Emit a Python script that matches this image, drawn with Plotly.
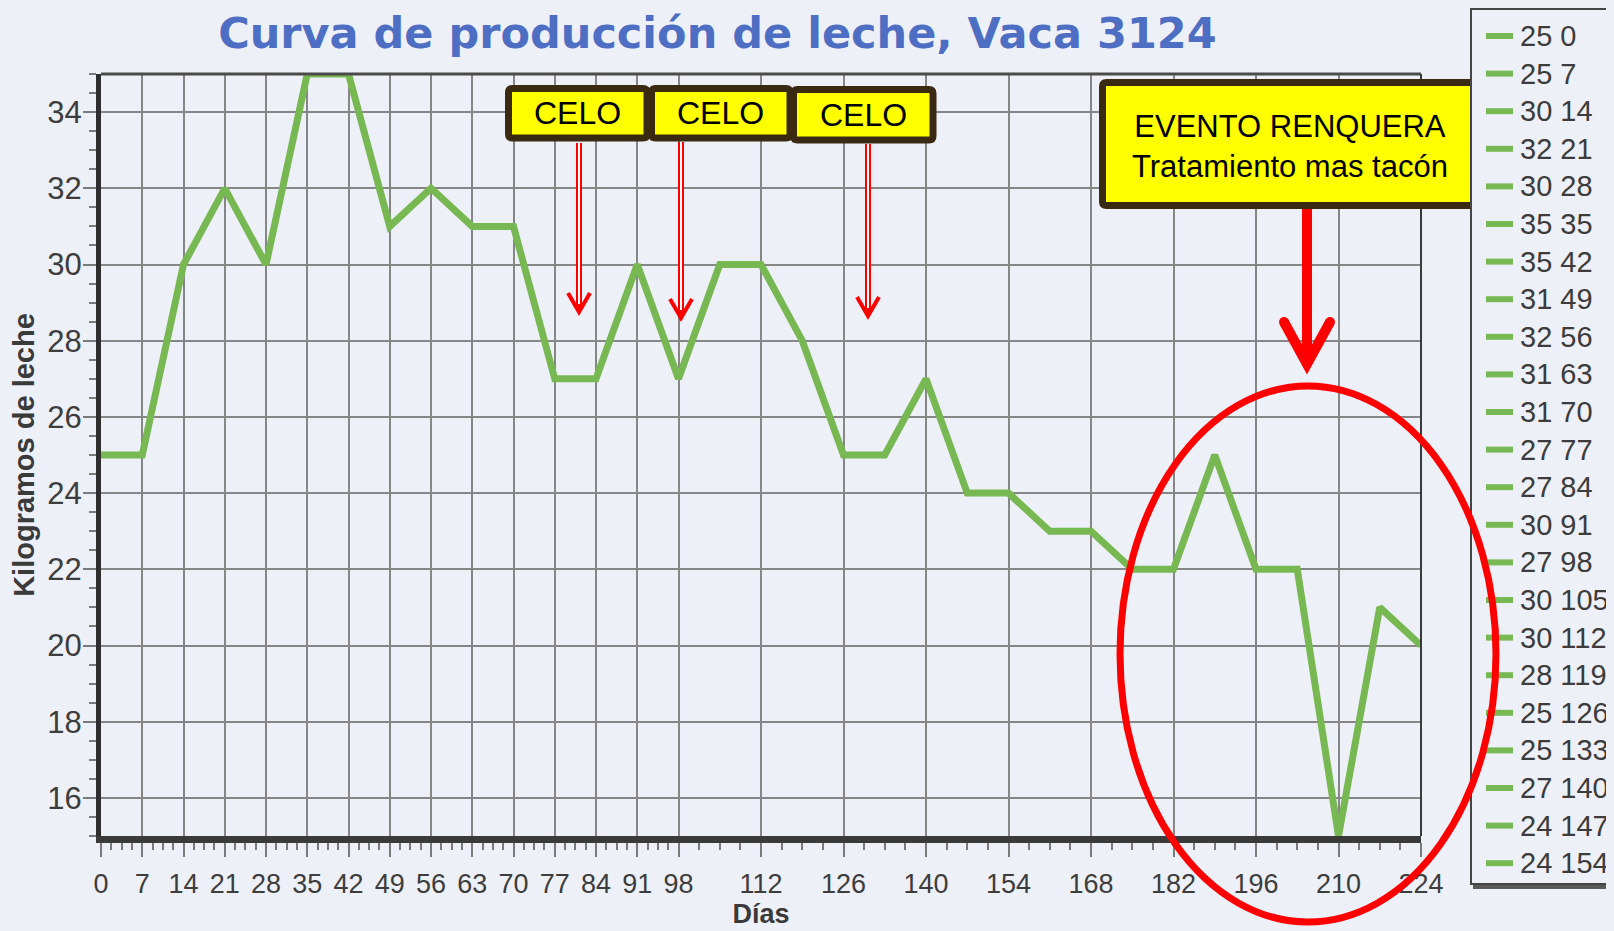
import plotly.graph_objects as go

# ---------------- data ----------------
dias = [0, 7, 14, 21, 28, 35, 42, 49, 56, 63, 70, 77, 84, 91, 98, 105, 112,
        119, 126, 133, 140, 147, 154, 161, 168, 175, 182, 189, 196, 203, 210, 217, 224]
kg = [25, 25, 30, 32, 30, 35, 35, 31, 32, 31, 31, 27, 27, 30, 27, 30, 30,
      28, 25, 25, 27, 24, 24, 23, 23, 22, 22, 25, 22, 22, 15, 21, 20]

x_ticks = [0, 7, 14, 21, 28, 35, 42, 49, 56, 63, 70, 77, 84, 91, 98,
           112, 126, 140, 154, 168, 182, 196, 210, 224]
y_ticks = [16, 18, 20, 22, 24, 26, 28, 30, 32, 34]

legend_count = 23  # entries visible in the original legend box
legend_labels = [f"{kg[i]} {dias[i]}" for i in range(legend_count)]

celo_labels = ["CELO", "CELO", "CELO"]
evento_label = "EVENTO RENQUERA<br>Tratamiento mas tacón"

title = "Curva de producción de leche, Vaca 3124"

# ---------------- layout helpers ----------------
OFF = 8                                   # page body margin
W, H = 1614 - OFF, 931 - OFF
L, R, T, B = 101, 1421, 74, 836          # plot area in screen pixels


def px(x):
    return (x - L) / (R - L)


def py(y):
    return (B - y) / (B - T)


BG = "#eef0f8"
GREEN = "#78b853"
GRID = "#868686"
BROWN = "#3b2a12"
YELLOW = "#ffff00"
RED = "#ff0000"

# minor tick positions (axis styling)
minor_x = []
v = 0.0
while v < 98:
    if v not in x_ticks:
        minor_x.append(v)
    v += 1.75
v = 98.0
while v <= 224:
    if v not in x_ticks:
        minor_x.append(v)
    v += 3.5

fig = go.Figure()
fig.add_trace(go.Scatter(
    x=dias, y=kg, mode="lines",
    line=dict(color=GREEN, width=7),
    showlegend=False, hoverinfo="x+y"))

shapes = []
annotations = []

# top & right frame
shapes.append(dict(type="line", xref="paper", yref="paper", x0=0, x1=1, y0=1, y1=1,
                   line=dict(color="#4a4a4a", width=3), layer="above"))
shapes.append(dict(type="line", xref="paper", yref="paper", x0=1, x1=1, y0=0, y1=1,
                   line=dict(color="#3a3a3a", width=2), layer="above"))


def rounded_rect(x0, y0, x1, y1, r=4):
    X0, X1 = px(x0), px(x1)
    Y0, Y1 = py(y0), py(y1)
    rx = r / (R - L)
    ry = r / (B - T)
    return (f"M {X0+rx},{Y0} L {X1-rx},{Y0} Q {X1},{Y0} {X1},{Y0-ry} "
            f"L {X1},{Y1+ry} Q {X1},{Y1} {X1-rx},{Y1} L {X0+rx},{Y1} "
            f"Q {X0},{Y1} {X0},{Y1+ry} L {X0},{Y0-ry} Q {X0},{Y0} {X0+rx},{Y0} Z")


# CELO boxes + thin arrows
celo_boxes = [(508.5, 88.5, 647, 138), (651.5, 88.5, 790, 138), (793.5, 89.5, 933, 140)]
celo_arrows = [(579, 143, 312), (681, 142, 318), (868, 144, 316)]
for (x0, y0, x1, y1), lab in zip(celo_boxes, celo_labels):
    shapes.append(dict(type="path", xref="paper", yref="paper",
                       path=rounded_rect(x0, y0, x1, y1),
                       fillcolor=YELLOW, line=dict(color=BROWN, width=7), layer="above"))
    annotations.append(dict(xref="paper", yref="paper", x=px((x0 + x1) / 2),
                            y=py((y0 + y1) / 2), text=lab, showarrow=False,
                            xanchor="center", yanchor="middle",
                            font=dict(family="Liberation Sans, Arial", size=32, color="#000000")))
for ax, y_start, y_tip in celo_arrows:
    shapes.append(dict(type="line", xref="paper", yref="paper",
                       x0=px(ax), x1=px(ax), y0=py(y_start), y1=py(y_tip - 4),
                       line=dict(color=RED, width=6), layer="above"))
    shapes.append(dict(type="line", xref="paper", yref="paper",
                       x0=px(ax), x1=px(ax), y0=py(y_start), y1=py(y_tip - 8),
                       line=dict(color="#ffffff", width=2), layer="above"))
    shapes.append(dict(type="path", xref="paper", yref="paper",
                       path=f"M {px(ax-11)},{py(y_tip-19)} L {px(ax)},{py(y_tip)} L {px(ax+11)},{py(y_tip-19)}",
                       line=dict(color=RED, width=4), layer="above"))

# EVENTO box
ex0, ey0, ex1, ey1 = 1102.5, 82.5, 1476.5, 205.5
shapes.append(dict(type="path", xref="paper", yref="paper",
                   path=rounded_rect(ex0, ey0, ex1, ey1),
                   fillcolor=YELLOW, line=dict(color=BROWN, width=7), layer="above"))
annotations.append(dict(xref="paper", yref="paper", x=px((ex0 + ex1) / 2),
                        y=py(146), text=evento_label, showarrow=False,
                        xanchor="center", yanchor="middle",
                        font=dict(family="Liberation Sans, Arial", size=31, color="#000000")))

# thick red arrow
bx = 1307
shapes.append(dict(type="line", xref="paper", yref="paper",
                   x0=px(bx), x1=px(bx), y0=py(209), y1=py(362),
                   line=dict(color=RED, width=10), layer="above"))
shapes.append(dict(type="path", xref="paper", yref="paper",
                   path=f"M {px(bx-23)},{py(322)} L {px(bx)},{py(364)} L {px(bx+23)},{py(322)}",
                   line=dict(color=RED, width=10), layer="above"))
for cx in (bx - 23, bx + 23):
    shapes.append(dict(type="circle", xref="paper", yref="paper",
                       x0=px(cx - 5), x1=px(cx + 5), y0=py(322 - 5), y1=py(322 + 5),
                       fillcolor=RED, line=dict(width=0), layer="above"))

# legend box (drawn)
shapes.append(dict(type="rect", xref="paper", yref="paper",
                   x0=px(1471), x1=px(1640), y0=py(9), y1=py(884),
                   fillcolor=BG, line=dict(color="#454545", width=2), layer="above"))
shapes.append(dict(type="line", xref="paper", yref="paper",
                   x0=px(1473), x1=px(1640), y0=py(887), y1=py(887),
                   line=dict(color="#5a5a5a", width=4), layer="above"))
for i, lab in enumerate(legend_labels):
    yy = 36 + i * 37.6
    shapes.append(dict(type="line", xref="paper", yref="paper",
                       x0=px(1486), x1=px(1513), y0=py(yy), y1=py(yy),
                       line=dict(color=GREEN, width=6), layer="above"))
    annotations.append(dict(xref="paper", yref="paper", x=px(1518), y=py(yy),
                            text=lab, showarrow=False, xanchor="left", yanchor="middle",
                            font=dict(family="Liberation Sans, Arial", size=29, color="#3c3c3c")))

# red ellipse
shapes.append(dict(type="circle", xref="paper", yref="paper",
                   x0=px(1120), x1=px(1496), y0=py(922), y1=py(386),
                   line=dict(color=RED, width=7), layer="above"))

fig.update_layout(
    width=W, height=H,
    margin=dict(l=L - OFF, r=W - (R - OFF), t=T - OFF, b=H - (B - OFF), autoexpand=False),
    paper_bgcolor=BG, plot_bgcolor=BG,
    title=dict(text=title, xref="container", x=(697 * 1614 / 1568 - OFF) / W,
               xanchor="center", yref="container", y=1 - (33 - OFF) / H, yanchor="middle",
               font=dict(family="DejaVu Sans", size=43, color="#4d6ec2", weight="bold")),
    shapes=shapes, annotations=annotations,
    showlegend=False,
)

fig.update_xaxes(
    range=[0, 224], tickmode="array", tickvals=x_ticks,
    ticktext=[str(t) for t in x_ticks],
    automargin=False,
    showgrid=True, gridcolor=GRID, gridwidth=2,
    showline=True, linecolor="#3a3a3a", linewidth=7,
    ticks="outside", ticklen=14, tickwidth=2, tickcolor="#7a7a7a",
    ticklabelstandoff=4,
    tickfont=dict(family="Liberation Sans, Arial", size=27, color="#3d3d3d"),
    minor=dict(tickmode="array", tickvals=minor_x, ticks="outside", ticklen=7,
               tickwidth=1.5, tickcolor="#7a7a7a", showgrid=False),
    title=dict(text="<b>Días</b>", standoff=2,
               font=dict(family="Liberation Sans, Arial", size=27, color="#3a3a3a")),
    zeroline=False, fixedrange=True,
)
fig.update_yaxes(
    range=[15, 35], tickmode="array", tickvals=y_ticks,
    automargin=False,
    showgrid=True, gridcolor=GRID, gridwidth=2,
    showline=True, linecolor="#2e2e2e", linewidth=5,
    ticks="outside", ticklen=13, tickwidth=2, tickcolor="#7a7a7a",
    ticklabelstandoff=-5,
    tickfont=dict(family="Liberation Sans, Arial", size=31, color="#3d3d3d"),
    minor=dict(dtick=0.5, ticks="outside", ticklen=7, tickwidth=1.5,
               tickcolor="#7a7a7a", showgrid=False),
    title=dict(text="<b>Kilogramos de leche</b>", standoff=9,
               font=dict(family="Liberation Sans, Arial", size=29, color="#3a3a3a")),
    zeroline=False, fixedrange=True,
)

fig.write_html("out.html",
               post_script="document.body.style.background='" + BG + "';")
